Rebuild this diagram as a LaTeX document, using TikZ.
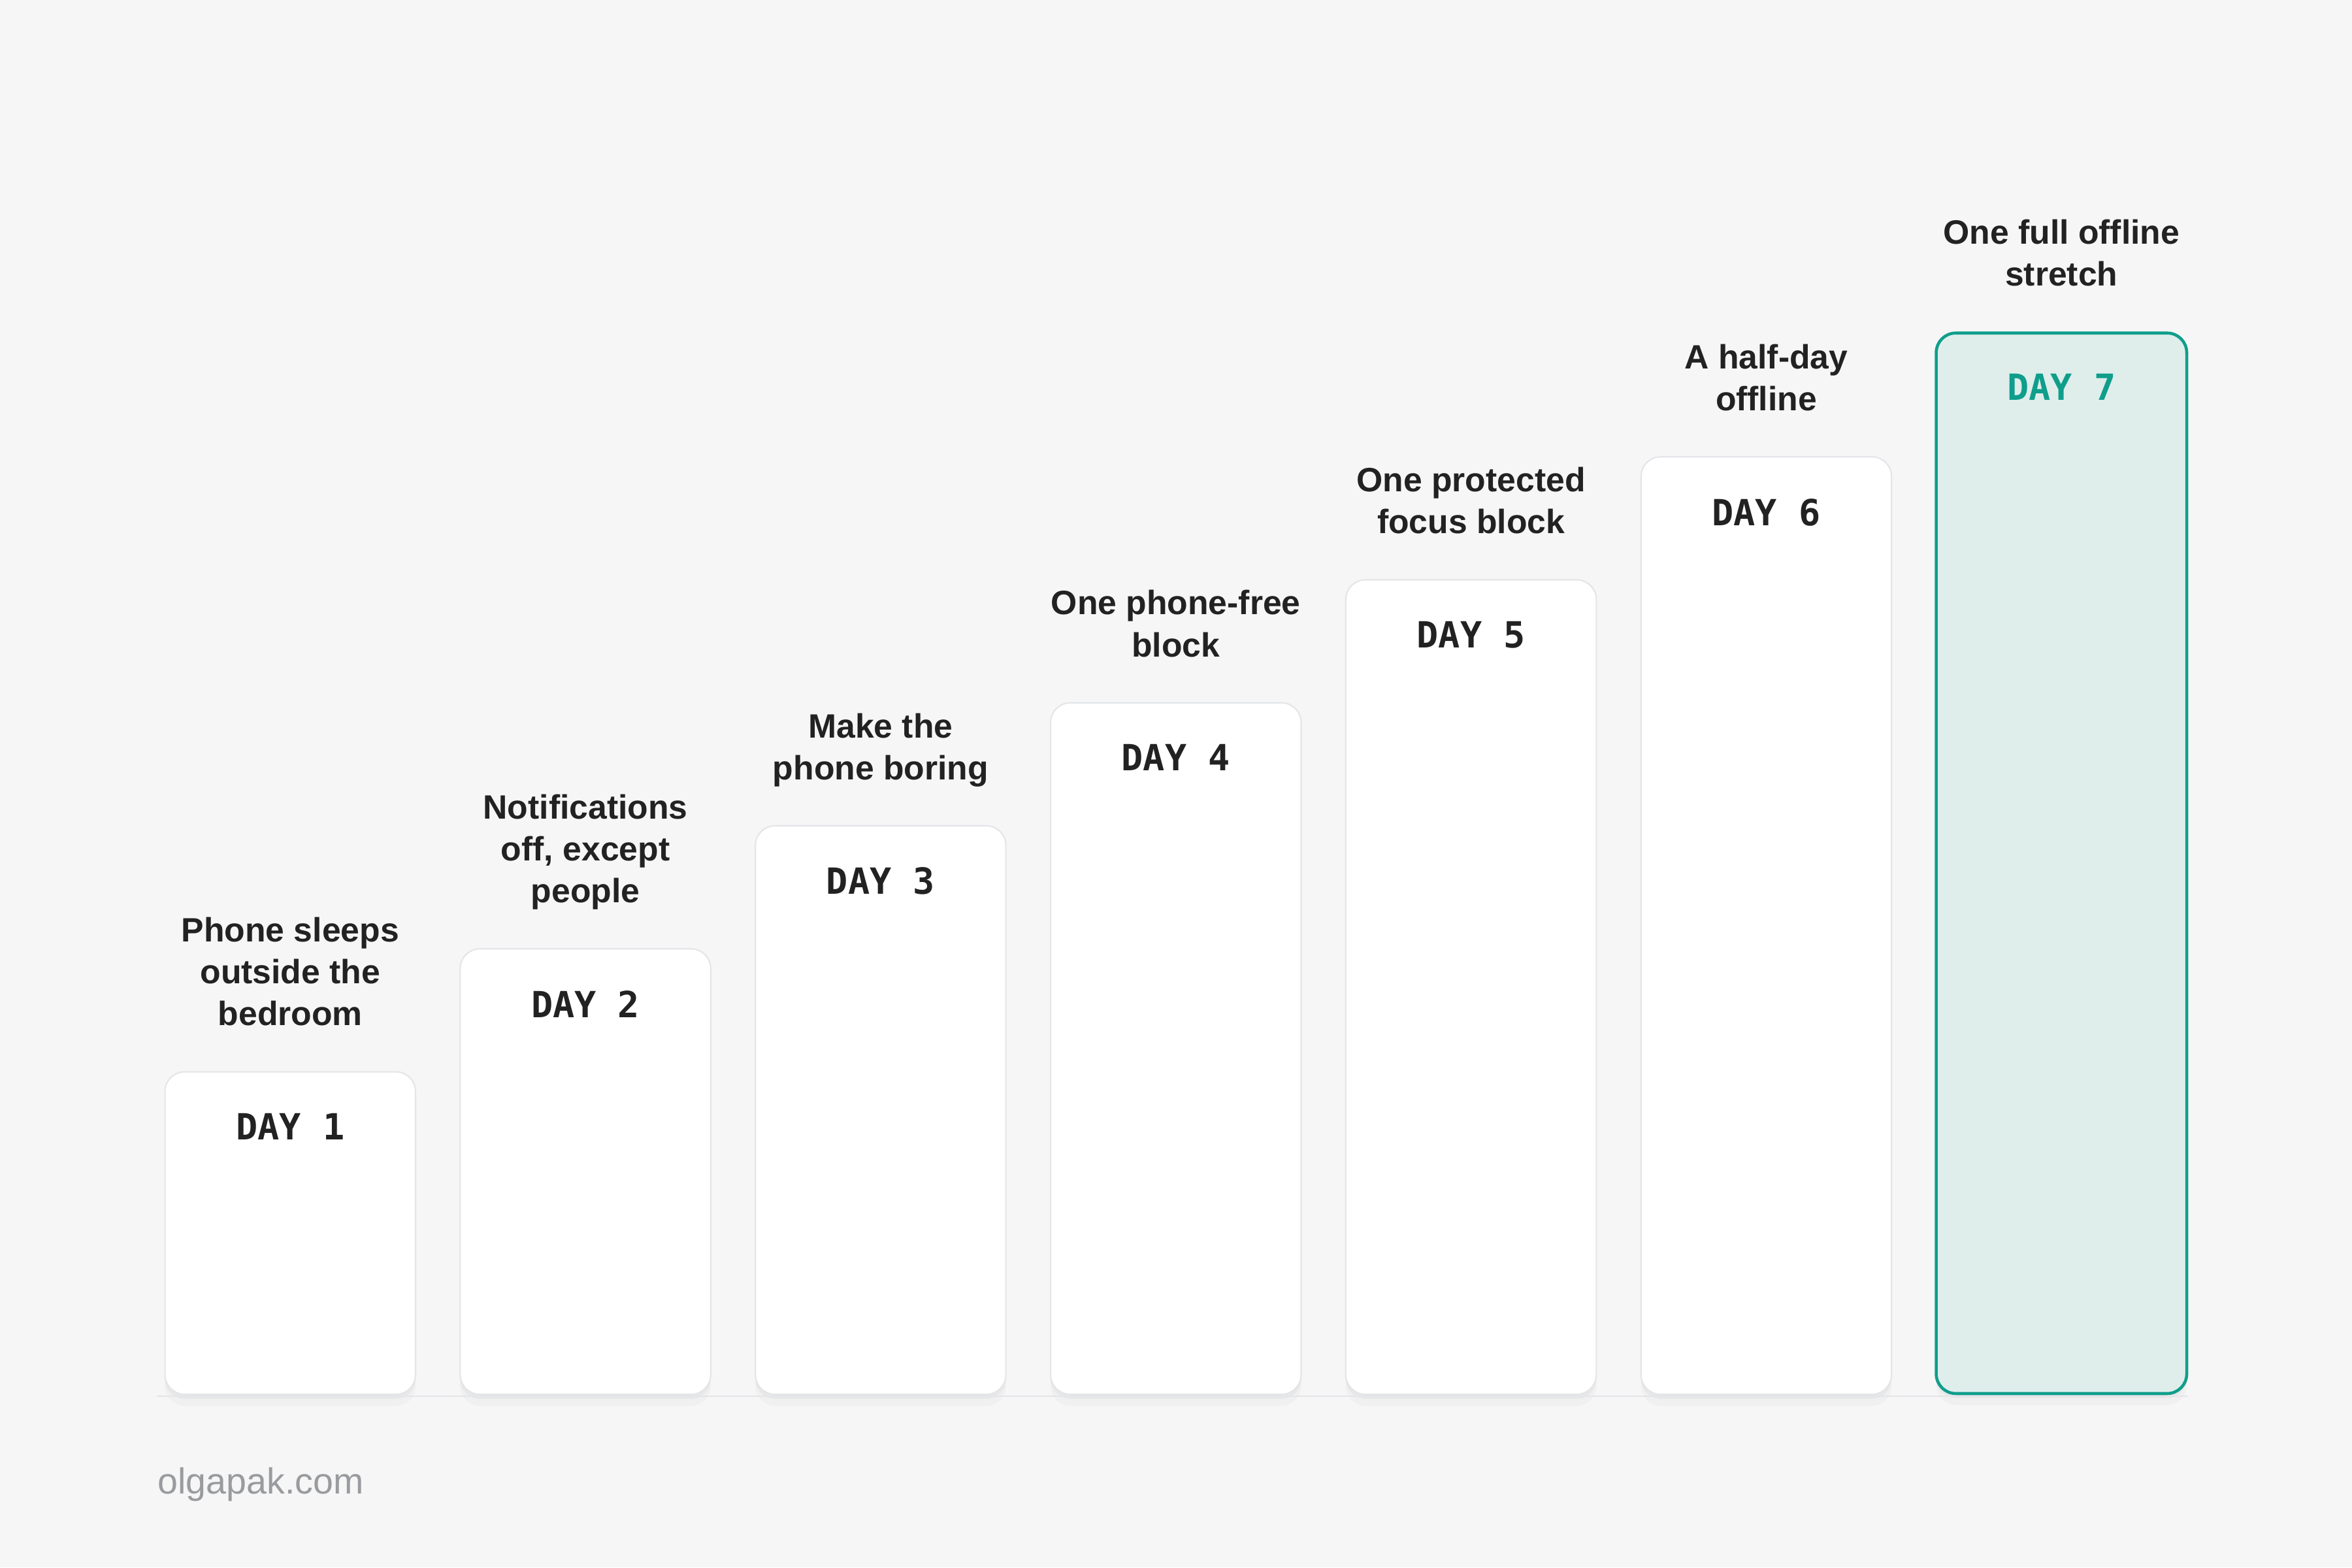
\documentclass[tikz,border=0pt]{standalone}
\usepackage{fontspec}
\setmainfont{Liberation Sans}
\setmonofont{DejaVu Sans Mono}
\usepackage{xcolor}
\usepackage{tikz}
\usetikzlibrary{positioning,shadows}

\definecolor{pagebg}{HTML}{F6F6F6}
\definecolor{ink}{HTML}{222222}
\definecolor{cardline}{HTML}{E3E5E8}
\definecolor{accent}{HTML}{0F9E8B}
\definecolor{accentfill}{HTML}{DFEEEB}
\definecolor{footgray}{HTML}{999B9E}
\newcommand\pxu{0.2296mm}

\begin{document}
\begin{tikzpicture}[x=\pxu, y=-\pxu,
      daybox/.style={draw=cardline, fill=white, line width=0.6pt, rounded corners=3mm,
        minimum width=167*\pxu, inner sep=0pt, anchor=south,
        general shadow={fill=black, draw=none, fill opacity=0.025, shadow yshift=-5pt},
        general shadow={fill=black, draw=none, fill opacity=0.03, shadow yshift=-2pt}},
      lastbox/.style={daybox, draw=accent, fill=accentfill, line width=1.3pt},
      daytag/.style={font=\ttfamily\bfseries\fontsize{15.7}{18}\selectfont, inner sep=0pt},
      steptext/.style={font=\bfseries\fontsize{14.7}{18.3}\selectfont, text=ink, align=center,
        text depth=0pt, inner sep=0pt},
      sitename/.style={font=\fontsize{15.8}{18}\selectfont, text=footgray, inner sep=0pt}
      ]
      \fill[pagebg] (0,0) rectangle (1568,1045);

      \foreach \i/\sty/\col/\txt in {
          1/daybox/ink/{Phone sleeps\\outside the\\bedroom},
          2/daybox/ink/{Notifications\\off, except\\people},
          3/daybox/ink/{Make the\\phone boring},
          4/daybox/ink/{One phone-free\\block},
          5/daybox/ink/{One protected\\focus block},
          6/daybox/ink/{A half-day\\offline},
          7/lastbox/accent/{One full offline\\stretch}} {
        \node[\sty, minimum height={(215+82*(\i-1))*\pxu}] (day\i) at ({193.5+196.8*(\i-1)}, 930) {};
        \node[daytag, text=\col, below=28*\pxu of day\i.north] (tag\i) {DAY \i};
        \node[steptext, above=30*\pxu of day\i.north] (goal\i) {\txt};
      }

      \draw[cardline, line width=0.6pt] ([xshift=-5*\pxu, yshift=-0.4pt]day1.south west) -- ([yshift=-0.4pt]day7.south east);

      \node[sitename, anchor=base west] (site) at (105, 996) {olgapak.com};
    \end{tikzpicture}
\end{document}
